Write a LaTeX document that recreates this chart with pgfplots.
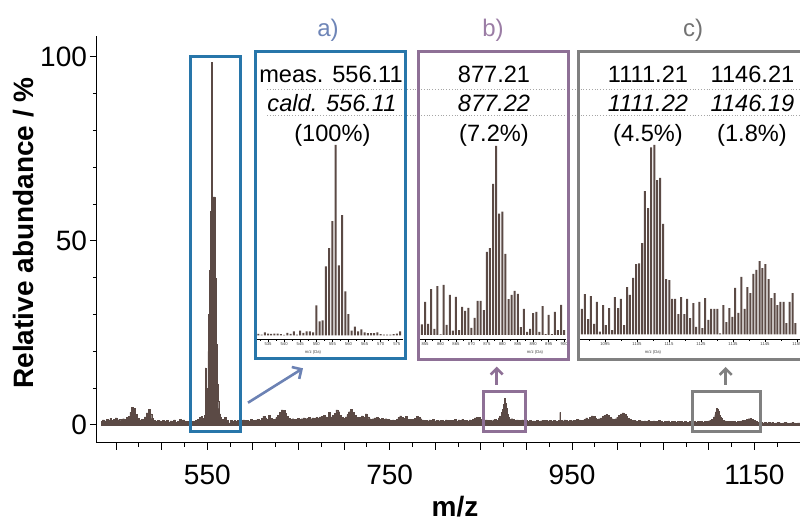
\documentclass[border=0pt]{standalone}
\usepackage{fontspec}
\setmainfont{Liberation Sans}
\usepackage{pgfplots}
\pgfplotsset{compat=1.18}
\usetikzlibrary{arrows.meta}
\definecolor{spec}{RGB}{91,74,69}
\definecolor{boxa}{RGB}{40,118,170}
\definecolor{boxb}{RGB}{142,112,150}
\definecolor{boxc}{RGB}{128,128,128}
\definecolor{laba}{RGB}{110,133,183}
\definecolor{labb}{RGB}{155,125,165}
\definecolor{labc}{RGB}{115,115,115}
\definecolor{arra}{RGB}{108,130,180}
\newcommand\rowfont{\fontsize{11.8}{14}\selectfont}
\newcommand\tinyfont{\fontsize{2.1}{2.5}\selectfont}
\pgfplotsset{
 inset/.style={scale only axis, anchor=south west,
  axis x line*=bottom, axis y line=none,
  axis line style={-, line width=0.4pt, black},
  tick align=outside, major tick length=1.2pt, minor tick length=0.7pt,
  minor x tick num=1,
  tick style={line width=0.3pt, black},
  xticklabel style={font=\tinyfont, inner sep=0.3pt, text=black!75},
  /pgf/number format/1000 sep={},
  /pgf/number format/assume math mode=true,
  clip=false},
}
\begin{document}
\begin{tikzpicture}
\useasboundingbox (0pt,0pt) rectangle (400pt,260pt);

% main axis
\begin{axis}[at={(48.5pt,38.5pt)}, anchor=south west, scale only axis,
 width=351.5pt, height=203.5pt,
 xmin=429, xmax=1200, ymin=-4.9, ymax=105.7,
 axis x line*=bottom, axis y line*=left,
 axis line style={-, line width=0.5pt},
 xtick={450,500,...,1200},
 xticklabels={{},{},550,{},{},{},750,{},{},{},950,{},{},{},1150,{}},
 minor x tick num=1,
 ytick={0,50,100}, minor y tick num=4,
 tick align=outside, major tick length=3.5pt, minor tick length=2pt,
 tick style={line width=0.5pt, black},
 tick label style={font=\fontsize{14}{16}\selectfont},
 xticklabel style={yshift=-4pt},
 yticklabel style={xshift=2pt},
 /pgf/number format/assume math mode=true,
]
\addplot[fill=spec, draw=spec, line width=0.2pt, const plot mark mid] coordinates {
(434,1.0)(436,1.4)(438,1.1)(440,1.6)(442,1.3)(444,1.8)(446,1.2)(448,1.5)(450,1.9)(452,1.4)
(454,1.6)(456,1.2)(458,1.7)(460,1.5)(462,2.0)(464,2.4)(466,3.4)(468,4.7)(470,4.5)(472,2.8)
(474,1.8)(476,1.3)(478,1.5)(480,1.6)(482,2.2)(484,3.3)(486,4.3)(488,3.0)(490,1.8)(492,1.2)
(494,1.0)(496,1.3)(498,1.1)(500,0.9)(502,1.2)(504,1.0)(506,1.3)(508,0.8)(510,1.1)(512,0.9)
(514,1.4)(516,0.8)(518,1.0)(520,1.5)(522,1.2)(524,1.4)(526,0.9)(528,1.0)(530,0.8)(532,0.6)
(534,0.9)(536,1.0)(538,1.3)(540,1.6)(542,2.0)(544,2.3)(545,1.8)(546,1.6)(547,2.6)(548,15.5)
(549,4.0)(550,10)(551,20)(552,30)(553,42)(554,58)(555,98.5)(556,62)(557,62)(558,62)
(559,40)(560,22)(561,11)(562,6.5)(563,4.5)(564,3.0)(565,2.0)(566,1.5)(568,0.9)(570,2.0)
(572,1.2)(574,0.6)(576,1.3)(578,0.9)(580,1.2)(582,1.0)(584,1.3)(586,1.1)(588,1.2)(590,1.4)
(592,1.2)(594,1.3)(596,1.1)(598,1.5)(600,1.3)(602,1.2)(604,1.4)(606,1.6)(608,1.3)(610,1.8)
(612,2.4)(614,1.9)(616,1.5)(618,2.6)(620,1.8)(622,1.5)(624,1.6)(626,2.0)(628,2.6)(630,3.4)
(632,4.1)(634,4.0)(636,3.2)(638,2.3)(640,1.8)(642,1.5)(644,1.7)(646,1.5)(648,1.6)(650,1.8)
(652,1.6)(654,1.7)(656,1.9)(658,1.7)(660,1.8)(662,2.0)(664,1.7)(666,1.9)(668,1.8)(670,2.1)
(672,1.9)(674,2.2)(676,2.4)(678,2.6)(680,2.2)(682,2.0)(684,3.4)(686,2.2)(688,2.6)(690,3.2)
(692,4.1)(694,3.6)(696,2.6)(698,2.0)(700,1.8)(702,2.2)(704,2.8)(706,3.6)(708,4.3)(710,3.5)
(712,2.6)(714,2.0)(716,1.7)(718,2.0)(720,2.5)(722,2.0)(724,3.0)(726,2.2)(728,1.7)(730,1.5)
(732,1.7)(734,1.9)(736,2.0)(738,1.8)(740,1.6)(742,1.8)(744,1.5)(746,1.7)(748,1.5)(750,1.4)
(752,1.3)(754,1.4)(756,1.2)(758,1.5)(760,2.0)(762,2.5)(764,2.1)(766,1.8)(768,2.3)(770,1.6)
(772,1.4)(774,1.6)(776,1.5)(778,1.8)(780,2.3)(782,2.1)(784,1.7)(786,1.4)(788,1.2)(790,1.3)
(792,1.1)(794,1.4)(796,1.2)(798,1.6)(800,1.1)(802,1.3)(804,1.1)(806,1.3)(808,1.2)(810,1.0)
(812,1.4)(814,1.2)(816,1.3)(818,1.1)(820,1.2)(822,1.5)(824,1.1)(826,1.4)(828,1.2)(830,1.5)
(832,1.2)(834,1.3)(836,1.1)(838,1.4)(840,1.3)(842,1.5)(844,1.9)(846,2.0)(848,2.1)(850,1.6)
(852,1.3)(854,1.1)(856,1.4)(858,1.2)(860,1.3)(862,1.1)(864,1.4)(866,1.5)(868,1.3)(870,1.9)
(871,2.5)(872,2.4)(873,3.5)(874,4.2)(875,5.6)(876,7.2)(877,6.0)(878,4.6)(879,3.0)(880,2.0)
(882,1.6)(884,1.7)(886,1.5)(888,1.3)(890,1.4)(892,1.3)(894,1.2)(896,1.4)(898,1.1)(899,6.2)
(900,1.3)(902,1.0)(904,1.2)(906,0.9)(908,1.1)(910,1.0)(912,1.2)(914,0.9)(916,1.1)(918,1.3)
(920,1.0)(922,1.2)(924,1.1)(926,1.3)(928,1.0)(930,1.2)(932,1.1)(934,1.0)(936,1.2)(937,3.4)
(938,1.3)(940,1.1)(942,1.4)(944,1.2)(946,1.0)(948,1.2)(950,1.1)(952,1.3)(954,1.2)(956,1.5)
(958,1.4)(960,1.2)(962,1.3)(964,1.6)(966,1.9)(968,1.6)(970,2.0)(972,2.5)(974,2.3)(976,1.8)
(978,1.5)(980,1.7)(982,1.9)(984,2.4)(986,2.6)(988,2.9)(990,2.7)(992,2.1)(994,1.7)(996,1.5)
(998,1.7)(1000,2.1)(1002,2.6)(1004,3.0)(1006,3.3)(1008,2.9)(1010,2.4)(1012,1.8)(1014,1.5)(1016,1.3)
(1018,1.2)(1020,1.1)(1022,1.0)(1024,1.2)(1026,1.1)(1028,0.9)(1030,1.1)(1032,1.0)(1034,1.2)(1036,0.9)
(1038,1.0)(1040,1.1)(1042,0.9)(1044,1.0)(1046,1.2)(1048,1.0)(1050,0.8)(1052,1.0)(1054,0.9)(1056,1.1)
(1058,0.8)(1060,0.9)(1062,1.0)(1064,0.8)(1066,0.9)(1068,0.7)(1070,0.9)(1072,0.8)(1074,0.9)(1076,0.7)
(1078,0.8)(1080,0.9)(1082,0.7)(1084,0.9)(1086,0.8)(1088,0.9)(1090,0.8)(1092,0.9)(1094,0.8)(1096,1.0)
(1098,0.9)(1100,1.1)(1102,1.3)(1104,1.6)(1106,2.2)(1107,2.8)(1108,3.6)(1109,4.5)(1110,4.4)(1111,3.7)
(1112,2.7)(1113,2.2)(1114,1.8)(1116,1.3)(1118,1.1)(1120,1.0)(1122,0.9)(1124,1.0)(1126,0.9)(1128,1.0)
(1130,0.8)(1132,0.9)(1134,1.0)(1136,1.1)(1138,1.2)(1140,1.3)(1142,1.5)(1144,1.7)(1146,1.8)(1148,1.6)
(1150,1.2)(1152,0.9)(1154,0.8)(1156,0.7)(1158,0.7)(1160,0.6)(1162,0.7)(1164,0.6)(1166,0.7)(1168,0.6)
(1170,0.7)(1172,0.5)(1174,0.6)(1176,0.7)(1178,0.6)(1180,0.5)(1182,0.6)(1184,0.7)(1186,0.6)(1188,0.5)
(1190,0.6)(1192,0.7)(1194,0.6)(1196,0.5)(1198,0.6)(1200,0.6)
} \closedcycle;
\end{axis}

% dotted separator lines
\draw[densely dotted, gray!70, line width=0.4pt] (133.5pt,215.35pt) -- (400pt,215.35pt);
\draw[densely dotted, gray!70, line width=0.4pt] (133.5pt,202.5pt) -- (400pt,202.5pt);

% inset a
\begin{axis}[inset, at={(128.5pt,90.35pt)}, width=73pt, height=97.15pt,
 xmin=531.58, xmax=576.93, ymin=-2, ymax=100, xtick={530,535,...,575}]
\addplot[ybar, bar width=1pt, fill=spec, draw=none] coordinates {
(532,0.9)(533,0.5)(534,1.6)(535,1.0)(536,0.9)(537,1.0)(538,1.0)(539,0.7)(540,0.3)(541,1.4)
(542,0.9)(543,2.1)(544,0.4)(545,2.6)(546,1.4)(547,2.1)(548,2.1)(549,1.6)(550,15.8)(551,7.4)
(552,7.9)(553,36.3)(554,45.8)(555,60)(556,100)(557,36.8)(558,63.2)(559,23.2)(560,11.2)(561,2.6)
(562,4.7)(563,2.1)(564,3.2)(565,1.6)(566,1.2)(567,1.2)(568,1.2)(569,1.6)(570,0.7)(571,0.5)
(572,0.5)(573,0.5)(574,0.7)(575,1.0)(576,2.1)
};
\end{axis}

% inset b
\begin{axis}[inset, at={(209.75pt,90.35pt)}, width=73.4pt, height=96.65pt,
 xmin=853.2, xmax=900.7, ymin=-2.3, ymax=100, xtick={855,860,...,900}]
\addplot[ybar, bar width=1pt, fill=spec, draw=none] coordinates {
(853,12.7)(854,5.6)(855,17.5)(856,5.8)(857,24.3)(858,3.2)(859,25.9)(860,0.3)(861,26.5)(862,5.3)
(863,21.2)(864,2.3)(865,20.1)(866,2.6)(867,14.8)(868,12.7)(869,14.3)(870,3.7)(871,9.0)(872,18.0)
(873,18.0)(874,13.2)(875,43.9)(876,46.0)(877,79.9)(878,100)(879,64.2)(880,65.3)(881,42.9)(882,19.0)
(883,21.2)(884,23.3)(885,21.7)(886,4.2)(887,13.8)(888,1.6)(889,3.2)(890,11.6)(891,12.2)(892,1.6)
(893,15.3)(894,0.5)(895,10.6)(896,0.5)(897,12.2)(898,2.6)(899,15.9)(900,2.6)
};
\end{axis}

% inset c
\begin{axis}[inset, at={(290pt,90.35pt)}, width=110pt, height=97.15pt,
 xmin=1087.19, xmax=1155.94, ymin=-2.6, ymax=100, xtick={1085,1095,...,1155}]
\addplot[ybar, bar width=1pt, fill=spec, draw=none] coordinates {
(1087.8,13.4)(1088.7,21.3)(1089.7,8.1)(1090.6,20.2)(1091.6,5.5)(1092.5,17.1)(1093.4,1.4)(1094.4,15.5)
(1095.3,4.9)(1096.3,13.9)(1097.2,2.3)(1098.1,19.7)(1099.1,13.9)(1100.0,18.7)(1101.0,4.9)(1101.9,25.0)
(1102.8,20.8)(1103.8,29.8)(1104.7,37.1)(1105.7,37.5)(1106.6,48.2)(1107.5,75.7)(1108.5,66.7)(1109.4,98.8)
(1110.4,100)(1111.3,81.5)(1112.2,82.6)(1113.2,58.3)(1114.1,29.2)(1115.1,28.7)(1116.0,18.7)(1116.9,18.7)
(1117.9,10.7)(1118.8,19.7)(1119.8,10.7)(1120.7,18.7)(1121.6,8.6)(1122.6,16.5)(1123.5,3.9)(1124.5,17.1)
(1125.4,3.3)(1126.3,19.2)(1127.3,7.6)(1128.2,13.4)(1129.2,13.4)(1130.1,13.4)(1131.0,0.5)(1132.0,15.5)
(1132.9,6.5)(1133.9,13.9)(1134.8,9.2)(1135.7,24.5)(1136.7,11.3)(1137.6,30.3)(1138.6,13.4)(1139.5,25.0)
(1140.4,21.8)(1141.4,31.9)(1142.3,34.0)(1143.3,38.7)(1144.2,35.0)(1145.1,37.1)(1146.1,29.2)(1147.0,19.2)
(1148.0,21.8)(1148.9,15.5)(1149.8,17.1)(1150.8,17.1)(1151.7,6.0)(1152.7,17.1)(1153.6,21.8)(1154.5,6.0)
};
\end{axis}

% inset axis titles
\node[font=\tinyfont, text=black!75] at (156.5pt,84pt) {m/z (Da)};
\node[font=\tinyfont, text=black!75] at (267.5pt,83.6pt) {m/z (Da)};
\node[font=\tinyfont, text=black!75] at (326.5pt,84pt) {m/z (Da)};

% boxes
\draw[boxa, line width=1.5pt] (127.5pt,234pt) rectangle (202.5pt,80.5pt);
\draw[boxb, line width=1.5pt] (209pt,234pt) rectangle (284pt,80pt);
\draw[boxc, line width=1.5pt] (289pt,234pt) rectangle (402pt,80pt);
\draw[boxa, line width=1.5pt] (95pt,231.5pt) rectangle (120pt,44pt);
\draw[boxb, line width=1.5pt] (241.5pt,64pt) rectangle (262.5pt,44pt);
\draw[boxc, line width=1.5pt] (346pt,64pt) rectangle (380pt,44pt);

% arrows
\draw[arra, line width=1.3pt, -{Straight Barb[length=3.5pt,width=7pt]}] (124pt,58.65pt) -- (151.5pt,75.85pt);
\draw[boxb, line width=1.3pt, -{Straight Barb[length=3pt,width=6pt]}] (248.35pt,67.5pt) -- (248.35pt,76.65pt);
\draw[boxc, line width=1.3pt, -{Straight Barb[length=3pt,width=6pt]}] (362.85pt,67.5pt) -- (362.85pt,76.5pt);

% panel labels
\node[anchor=base, text=laba, font=\fontsize{12}{14}\selectfont] at (164pt,241.6pt) {a)};
\node[anchor=base, text=labb, font=\fontsize{12}{14}\selectfont] at (246.5pt,241.6pt) {b)};
\node[anchor=base, text=labc, font=\fontsize{12}{14}\selectfont] at (346.5pt,241.6pt) {c)};

% inset texts
\node[anchor=base, font=\rowfont] at (165.5pt,218.75pt) {meas. 556.11};
\node[anchor=base, font=\rowfont\itshape] at (166pt,204.15pt) {cald. 556.11};
\node[anchor=base, font=\rowfont] at (166.2pt,189.15pt) {(100\%)};
\node[anchor=base, font=\rowfont] at (247pt,218.75pt) {877.21};
\node[anchor=base, font=\rowfont\itshape] at (247pt,204.15pt) {877.22};
\node[anchor=base, font=\rowfont] at (247pt,189.15pt) {(7.2\%)};
\node[anchor=base, font=\rowfont] at (324pt,218.75pt) {1111.21};
\node[anchor=base, font=\rowfont\itshape] at (324pt,204.15pt) {1111.22};
\node[anchor=base, font=\rowfont] at (324pt,189.15pt) {(4.5\%)};
\node[anchor=base, font=\rowfont] at (376.25pt,218.75pt) {1146.21};
\node[anchor=base, font=\rowfont\itshape] at (376.25pt,204.15pt) {1146.19};
\node[anchor=base, font=\rowfont] at (376pt,189.15pt) {(1.8\%)};

% axis titles
\node[anchor=base, rotate=90, font=\fontsize{14}{16}\selectfont\bfseries] at (16.65pt,143.5pt) {Relative abundance / \%};
\node[anchor=base, font=\fontsize{14}{16}\selectfont\bfseries] at (227.5pt,1.8pt) {m/z};
\end{tikzpicture}
\end{document}
